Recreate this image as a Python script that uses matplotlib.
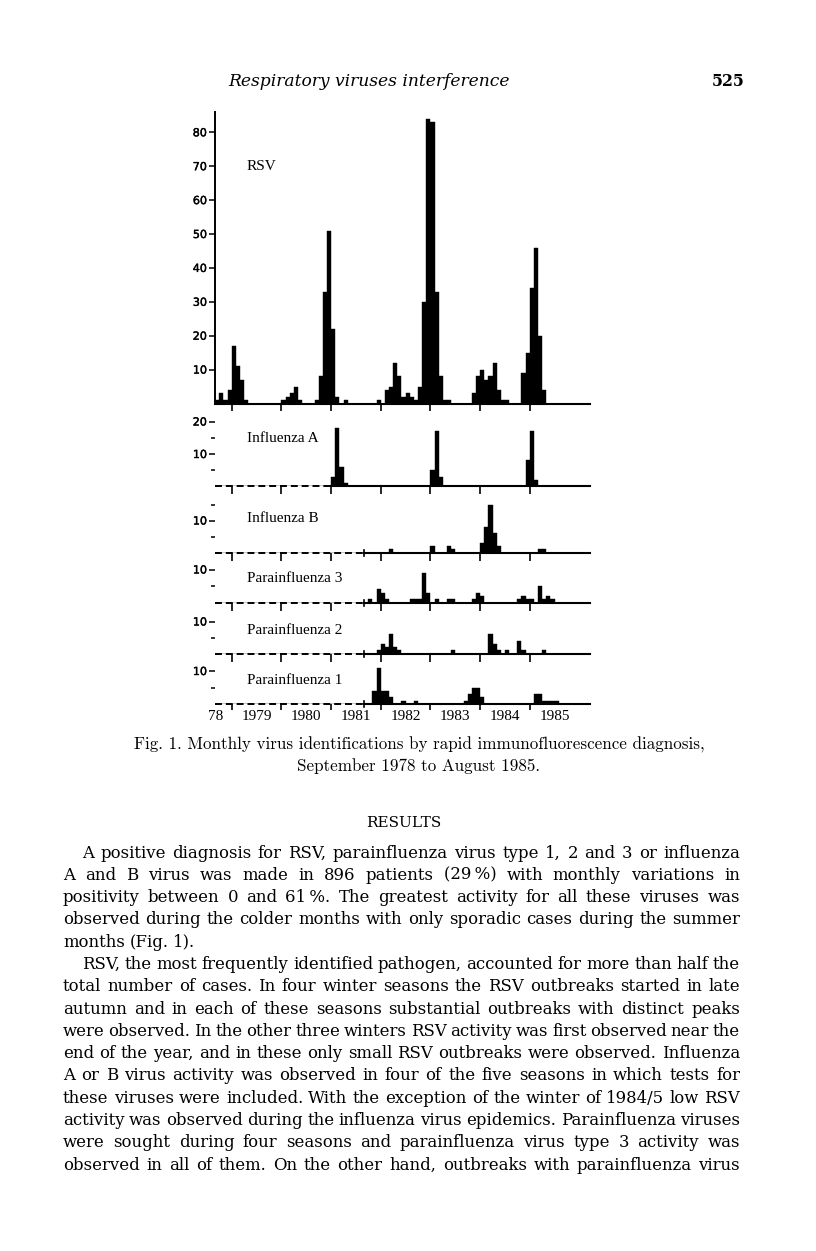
import numpy as np
import matplotlib
matplotlib.use('Agg')
import matplotlib.pyplot as plt
import matplotlib.patheffects as pe

# monthly counts, September 1978 .. August 1985 (one row per season, Sep..Aug)
rsv = [1, 3, 1, 4, 17, 11, 7, 1, 0, 0, 0, 0,
       0, 0, 0, 0, 1, 2, 3, 5, 1, 0, 0, 0,
       1, 8, 33, 51, 22, 2, 0, 1, 0, 0, 0, 0,
       0, 0, 0, 1, 0, 4, 5, 12, 8, 2, 3, 2,
       1, 5, 30, 84, 83, 33, 8, 1, 1, 0, 0, 0,
       0, 0, 3, 8, 10, 7, 8, 12, 4, 1, 1, 0,
       0, 0, 9, 15, 34, 46, 20, 4, 0, 0, 0, 0]
flu_a = [0] * 24 + [0, 0, 0, 0, 3, 18, 6, 1, 0, 0, 0, 0,
                    0, 0, 0, 0, 0, 0, 0, 0, 0, 0, 0, 0,
                    0, 0, 0, 0, 5, 17, 3, 0, 0, 0, 0, 0,
                    0, 0, 0, 0, 0, 0, 0, 0, 0, 0, 0, 0,
                    0, 0, 0, 8, 17, 2, 0, 0, 0, 0, 0, 0]
flu_b = [0] * 36 + [0, 0, 0, 0, 0, 0, 1, 0, 0, 0, 0, 0,
                    0, 0, 0, 0, 2, 0, 0, 0, 2, 1, 0, 0,
                    0, 0, 0, 0, 3, 8, 15, 6, 2, 0, 0, 0,
                    0, 0, 0, 0, 0, 0, 1, 1, 0, 0, 0, 0]
para3 = [0] * 36 + [0, 1, 0, 4, 3, 1, 0, 0, 0, 0, 0, 1,
                    1, 1, 9, 3, 0, 1, 0, 0, 1, 1, 0, 0,
                    0, 0, 1, 3, 2, 0, 0, 0, 0, 0, 0, 0,
                    0, 1, 2, 1, 1, 0, 5, 1, 2, 1, 0, 0]
para2 = [0] * 36 + [0, 0, 0, 1, 3, 2, 6, 2, 1, 0, 0, 0,
                    0, 0, 0, 0, 0, 0, 0, 0, 0, 1, 0, 0,
                    0, 0, 0, 0, 0, 0, 6, 3, 1, 0, 1, 0,
                    0, 4, 1, 0, 0, 0, 0, 1, 0, 0, 0, 0]
para1 = [0] * 36 + [0, 0, 4, 11, 4, 4, 2, 0, 0, 1, 0, 0,
                    1, 0, 0, 0, 0, 0, 0, 0, 0, 0, 0, 0,
                    1, 3, 5, 5, 2, 0, 0, 0, 0, 0, 0, 0,
                    0, 0, 0, 0, 0, 3, 3, 1, 1, 1, 1, 0]
months = np.arange(84)

year_ticks = [4, 16, 28, 40, 52, 64, 76]
year_labels = ['78', '1979', '1980', '1981', '1982', '1983', '1984', '1985']
year_label_pos = [0.2, 10, 22, 34, 46, 58, 70, 82]

header = 'Respiratory viruses interference'
page_no = '525'
caption = ['Fig. 1. Monthly virus identifications by rapid immunofluorescence diagnosis,',
           'September 1978 to August 1985.']
section = 'RESULTS'
paragraphs = [
    ['A positive diagnosis for RSV, parainfluenza virus type 1, 2 and 3 or influenza',
     'A and B virus was made in 896 patients (29\u2009%) with monthly variations in',
     'positivity between 0 and 61\u2009%. The greatest activity for all these viruses was',
     'observed during the colder months with only sporadic cases during the summer',
     'months (Fig. 1).'],
    ['RSV, the most frequently identified pathogen, accounted for more than half the',
     'total number of cases. In four winter seasons the RSV outbreaks started in late',
     'autumn and in each of these seasons substantial outbreaks with distinct peaks',
     'were observed. In the other three winters RSV activity was first observed near the',
     'end of the year, and in these only small RSV outbreaks were observed. Influenza',
     'A or B virus activity was observed in four of the five seasons in which tests for',
     'these viruses were included. With the exception of the winter of 1984/5 low RSV',
     'activity was observed during the influenza virus epidemics. Parainfluenza viruses',
     'were sought during four seasons and parainfluenza virus type 3 activity was',
     'observed in all of them. On the other hand, outbreaks with parainfluenza virus'],
]

W, H = 816, 1251
plt.rcParams['lines.scale_dashes'] = False
fig = plt.figure(figsize=(W / 100, H / 100), dpi=100)
fig.patch.set_facecolor('white')
renderer = fig.canvas.get_renderer()

X0, X1, MW = 215.2, 590.0, 4.139
XMAX = (X1 - X0) / MW
SERIF = 'Liberation Serif'
BODY = 'DejaVu Serif'


def fpos(x, y):
    return x / W, 1 - y / H


def panel(base, top, scale):
    ax = fig.add_axes([X0 / W, 1 - base / H, (X1 - X0) / W, (base - top) / H])
    ax.set_xlim(0, XMAX)
    ax.set_ylim(0, (base - top) / scale)
    ax.patch.set_visible(False)
    for s in ax.spines.values():
        s.set_visible(False)
    ax.set_xticks(year_ticks)
    ax.tick_params(axis='x', direction='out', length=6, width=1.2, labelbottom=False)
    ax.tick_params(axis='y', which='both', direction='out', width=1.1, pad=1.5,
                   labelsize=8)
    ax.tick_params(axis='y', which='major', length=4.5)
    ax.tick_params(axis='y', which='minor', length=3)
    return ax


# (name, values, baseline px, top px, px per case, major, minor, label y, tested from)
panels = [
    ('RSV', rsv, 403.5, 112, 3.39, range(10, 90, 10), [], 167, None),
    ('Influenza A', flu_a, 486.5, 408, 3.25, [10, 20], [5, 15], 439, 28),
    ('Influenza B', flu_b, 552.5, 492, 3.2, [10], [5, 15], 519, 36),
    ('Parainfluenza 3', para3, 602.5, 556, 3.3, [10], [5], 579, 36),
    ('Parainfluenza 2', para2, 653.5, 606, 3.2, [10], [5], 630, 36),
    ('Parainfluenza 1', para1, 704.0, 657, 3.3, [10], [5], 681, 36),
]

for name, vals, base, top, scale, major, minor, ly, start in panels:
    ax = panel(base, top, scale)
    ax.bar(months, vals, width=1.0, align='edge', color='black',
           edgecolor='black', linewidth=0.3, zorder=3)
    ax.set_yticks(list(major))
    ax.set_yticks(minor, minor=True)
    for lab in ax.get_yticklabels():
        lab.set_family('DejaVu Sans')
        lab.set_path_effects([pe.withStroke(linewidth=0.3, foreground='black')])
    if start is None:
        ax.spines['left'].set_visible(True)
        ax.spines['left'].set_linewidth(1.4)
        ax.plot([0, XMAX], [0, 0], color='black', lw=1.5, clip_on=False, zorder=4)
        ax.tick_params(axis='x', length=5)
    else:
        ax.plot([0, start], [0, 0], color='black', lw=1.4, dashes=(5, 2.8),
                clip_on=False, zorder=4)
        ax.plot([start, XMAX], [0, 0], color='black', lw=1.5, clip_on=False, zorder=4)
        if start == 36:
            ax.plot([start, start], [-3 / scale, 3 / scale], color='black', lw=1.2,
                    clip_on=False, zorder=4)
    fig.text(*fpos(247, ly), name, family=SERIF, fontsize=11, va='center', ha='left')
    last = ax

last.tick_params(axis='x', length=4)
for lbl, u in zip(year_labels, year_label_pos):
    last.annotate(lbl, xy=(u, H - 716), xycoords=('data', 'figure pixels'),
                  ha='center', va='center', family=SERIF, fontsize=11)


def fit(s, x0, x1, yb, **kw):
    t = fig.text(*fpos(x0, yb), s, fontsize=10, va='baseline', ha='left', **kw)
    w = t.get_window_extent(renderer).width
    fs = 10 * (x1 - x0) / w
    t.set_fontsize(fs)
    return fs


fit(header, 228, 511, 86, family=BODY, style='italic')
fit(page_no, 712, 745, 86, family=BODY, weight='bold')
cap_fs = fit(caption[0], 134, 705, 750, family='cmr10')
fig.text(*fpos(419, 771), caption[1], fontsize=cap_fs, family='cmr10',
         va='baseline', ha='center')
fig.text(*fpos(404, 827), section, fontsize=11, family=BODY, va='baseline',
         ha='center')

# body text: one font size for all lines, lines justified word by word
LEFT, INDENT, RIGHT = 63, 82, 740
ratios = []
for para in paragraphs:
    for k, line in enumerate(para[:-1]):
        t = fig.text(0, 0, line, fontsize=10, family=BODY)
        ratios.append((RIGHT - (INDENT if k == 0 else LEFT)) /
                      t.get_window_extent(renderer).width)
        t.remove()
BODY_FS = 10 * float(np.median(ratios)) * 0.985


def put_line(line, x0, x1, yb, justify):
    words = line.split(' ')
    texts = [fig.text(0, 0, w, fontsize=BODY_FS, family=BODY, va='baseline')
             for w in words]
    widths = [t.get_window_extent(renderer).width for t in texts]
    if justify and len(words) > 1:
        gap = (x1 - x0 - sum(widths)) / (len(words) - 1)
    else:
        gap = BODY_FS * 0.4
    x = x0
    for t, w in zip(texts, widths):
        t.set_position(fpos(x, yb))
        x += w + gap


yb = 857.5
for para in paragraphs:
    for k, line in enumerate(para):
        x0 = INDENT if k == 0 else LEFT
        put_line(line, x0, RIGHT, yb, justify=(k < len(para) - 1 or len(para) > 6))
        yb += 22.3

fig.savefig('out.png', dpi=100, facecolor='white')
